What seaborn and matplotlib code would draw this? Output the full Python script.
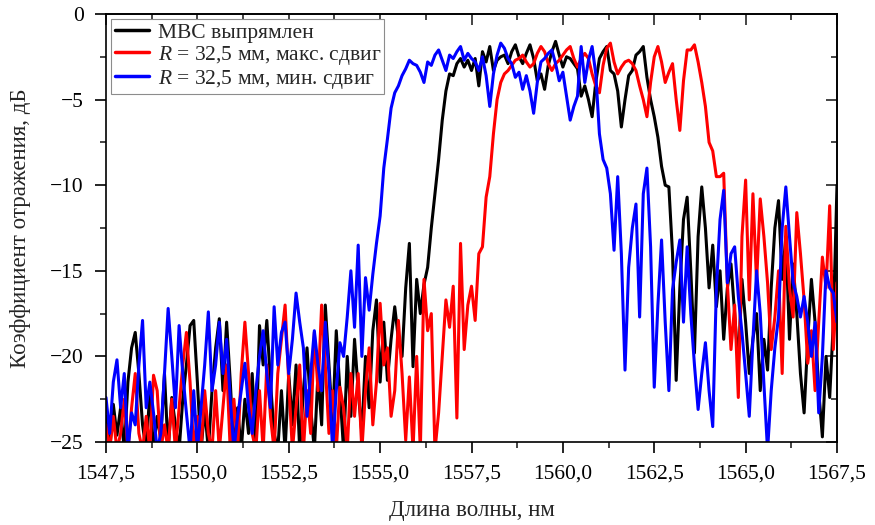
import numpy as np
import pandas as pd
import matplotlib
matplotlib.use("Agg")
import matplotlib.pyplot as plt
from matplotlib.ticker import MultipleLocator, FuncFormatter
import seaborn as sns

# ---- data ----
wl_start, wl_stop, n_pts = 1547.5, 1567.5, 201
wavelength = np.linspace(wl_start, wl_stop, n_pts)

straight = [
    -23.5, -25.5, -22.8, -24.6, -23.0, -25.5, -21.5, -19.5, -18.6, -21.0,
    -24.0, -25.5, -22.0, -25.5, -23.5, -24.8, -21.0, -25.5, -22.4, -24.0,
    -25.5, -22.5, -20.5, -18.2, -17.9, -21.5, -25.5, -23.0, -25.5, -22.0,
    -19.5, -17.8, -22.0, -18.0, -21.5, -25.5, -23.0, -25.5, -22.5, -24.5,
    -21.0, -25.5, -18.2, -20.5, -17.9, -21.5, -24.5, -25.5, -22.0, -25.5,
    -21.0, -24.0, -20.5, -25.5, -22.0, -19.5, -23.0, -25.5, -21.0, -24.0,
    -17.0, -20.5, -24.0, -18.5, -22.0, -25.5, -20.0, -23.5, -19.0, -22.0,
    -24.5, -20.0, -23.0, -18.5, -16.7, -21.5, -18.0, -21.4, -19.0, -17.1,
    -19.0, -20.0, -16.0, -13.4, -20.6, -15.5, -17.5, -15.8, -14.8, -12.5,
    -10.5, -8.5, -6.2, -4.5, -3.5, -3.6, -2.9, -2.6, -3.1, -2.7,
    -3.3, -2.6, -4.2, -2.2, -2.8, -1.9, -3.3, -2.7, -2.5, -2.4,
    -2.9, -2.2, -1.8, -2.5, -2.9, -2.3, -1.8, -2.6, -3.9, -3.5,
    -4.4, -3.0, -2.2, -1.6, -2.4, -3.1, -2.5, -2.6, -2.9, -3.2,
    -4.8, -4.2, -5.0, -6.0, -4.0, -2.6, -2.2, -1.9, -3.3, -3.5,
    -4.5, -6.6, -5.0, -3.6, -3.3, -2.4, -2.2, -1.9, -3.7, -5.0,
    -6.0, -7.2, -8.9, -10.0, -10.1, -14.0, -21.4, -16.0, -12.0, -10.7,
    -15.0, -19.8, -13.0, -10.1, -12.5, -16.0, -13.5, -17.1, -15.0, -19.0,
    -16.0, -14.6, -17.5, -20.5, -15.5, -18.0, -21.0, -19.0, -17.5, -22.0,
    -19.0, -20.8, -16.0, -12.5, -10.9, -15.5, -13.0, -19.0, -14.6, -17.5,
    -21.0, -23.3, -19.0, -15.5, -18.0, -22.0, -24.7, -20.0, -22.4, -18.0,
    -10.0,
]

max_shift = [
    -24.0, -25.5, -23.5, -25.5, -24.5, -22.5, -25.5, -23.0, -21.0, -24.5,
    -25.5, -23.5, -25.5, -21.1, -22.0, -25.5, -24.0, -25.5, -22.5, -25.5,
    -23.0, -20.5, -18.6, -21.5, -25.5, -23.5, -25.5, -22.0, -24.5, -25.5,
    -22.0, -25.5, -23.0, -20.5, -25.5, -22.5, -25.5, -21.0, -18.0, -21.0,
    -24.5, -25.5, -22.0, -25.5, -20.5, -23.5, -25.5, -21.0, -19.0, -17.0,
    -21.5, -25.5, -23.0, -20.5, -25.5, -22.0, -24.5, -18.6, -22.0, -17.0,
    -20.5, -24.5, -22.0, -25.5, -21.8, -23.0, -25.5, -21.0, -23.5, -21.0,
    -25.5, -22.0, -19.5, -24.0, -21.5, -16.9, -20.5, -19.5, -23.5, -22.0,
    -17.9, -21.0, -24.9, -21.2, -25.5, -20.0, -25.5, -15.5, -18.5, -17.5,
    -25.5, -23.3, -20.0, -16.7, -18.3, -15.9, -23.6, -13.4, -19.6, -17.0,
    -15.9, -17.9, -14.0, -13.6, -10.7, -9.5, -7.0, -5.0, -4.0, -3.5,
    -3.3, -3.0, -2.7, -2.6, -2.4, -2.8, -3.1, -2.9, -2.3, -1.9,
    -2.2, -2.9, -3.3, -2.9, -2.7, -2.4, -2.1, -1.9, -2.6, -3.1,
    -2.6, -2.3, -2.6, -3.5, -4.2, -4.6, -3.0, -2.0, -1.7, -2.8,
    -3.5, -3.1, -2.8, -2.7, -2.9, -3.3, -4.2, -5.0, -6.0, -4.0,
    -2.5, -1.9, -2.8, -4.0, -3.4, -2.9, -5.0, -6.8, -3.9, -2.1,
    -2.1, -1.8, -2.8, -4.0, -5.4, -7.5, -8.0, -9.5, -9.5, -9.3,
    -15.7, -19.6, -17.0, -22.4, -13.0, -9.7, -16.7, -10.5, -15.7, -10.8,
    -13.0, -15.7, -19.6, -17.7, -15.0, -21.0, -12.4, -16.0, -17.7, -11.6,
    -14.0, -16.7, -20.4, -18.5, -22.0, -18.0, -14.2, -16.0, -11.2, -19.6,
    -15.7,
]

min_shift = [
    -22.4, -24.5, -21.5, -20.2, -23.0, -21.0, -25.5, -23.3, -24.0, -20.5,
    -17.9, -23.0, -21.5, -23.3, -25.5, -24.5, -21.0, -17.2, -20.0, -23.0,
    -18.2, -21.0, -23.3, -25.5, -22.0, -25.5, -23.0, -20.5, -17.4, -22.0,
    -20.5, -18.0, -21.0, -19.0, -22.5, -25.5, -23.5, -22.0, -20.4, -23.0,
    -24.5, -22.0, -20.0, -18.5, -21.0, -23.0, -17.1, -20.5, -18.6, -18.0,
    -21.0, -19.0, -16.3, -18.0, -19.5, -23.5, -21.0, -18.5, -20.5, -22.0,
    -18.0, -21.0, -25.5, -22.0, -19.2, -20.0, -17.7, -15.0, -18.3, -13.5,
    -20.0, -15.4, -17.3, -15.2, -13.4, -11.8, -9.0, -7.3, -5.5, -4.6,
    -4.2, -3.6, -3.2, -2.7, -2.9, -3.0, -3.4, -4.0, -2.8, -3.0,
    -2.4, -2.1, -2.7, -3.3, -2.4, -2.6, -2.2, -1.9, -2.7, -2.3,
    -2.6, -2.8, -3.3, -2.5, -3.6, -5.4, -3.5, -2.4, -1.7, -2.0,
    -2.6, -2.9, -3.7, -3.4, -4.4, -3.6, -4.5, -5.8, -4.0, -2.8,
    -2.6, -2.3, -2.1, -2.9, -3.9, -3.4, -4.8, -6.2, -5.4, -4.8,
    -1.9, -4.0, -2.7, -1.9, -3.5, -7.0, -8.5, -9.0, -10.5, -13.8,
    -9.5, -14.0, -20.8, -14.8, -12.5, -11.1, -17.7, -10.5, -9.0, -13.6,
    -21.8, -17.0, -13.2, -18.0, -22.0, -16.1, -14.5, -13.2, -18.0, -13.6,
    -17.5, -20.5, -23.1, -21.0, -19.2, -22.0, -24.1, -16.0, -12.0, -10.3,
    -15.7, -14.0, -13.6, -16.5, -18.6, -21.0, -23.5, -19.0, -15.0, -17.5,
    -21.6, -25.5, -22.0, -19.5, -17.7, -12.5, -10.1, -13.0, -15.7, -16.5,
    -17.7, -16.5, -18.0, -20.0, -18.0, -23.3, -20.0, -15.0, -16.0, -16.3,
    -18.0,
]

labels = ["МВС выпрямлен",
          "$R$ = 32,5 мм, макс. сдвиг",
          "$R$ = 32,5 мм, мин. сдвиг"]
colors = ["#000000", "#ff0000", "#0000ff"]

x_label = "Длина волны, нм"
y_label = "Коэффициент отражения, дБ"

# ---- style ----
sns.set_style("ticks")
plt.rcParams["font.family"] = ["Liberation Serif", "DejaVu Serif"]
plt.rcParams["mathtext.fontset"] = "custom"
plt.rcParams["mathtext.it"] = "Liberation Serif:italic"
plt.rcParams["mathtext.rm"] = "Liberation Serif"
plt.rcParams["axes.unicode_minus"] = True

fig = plt.figure(figsize=(8.75, 5.25), dpi=100)
ax = fig.add_axes([106 / 875, 1 - 442 / 525, (837 - 106) / 875, (442 - 14) / 525])

for series, lab, col in zip([straight, max_shift, min_shift], labels, colors):
    df = pd.DataFrame({"wl": wavelength, "R": series})
    sns.lineplot(data=df, x="wl", y="R", ax=ax, color=col, lw=2.2,
                 label=lab, sort=False, estimator=None)

ax.set_xlim(1547.5, 1567.5)
ax.set_ylim(-25, 0)

comma = FuncFormatter(lambda v, p: f"{v:.1f}".replace(".", ","))
ax.xaxis.set_major_locator(MultipleLocator(2.5))
ax.xaxis.set_minor_locator(MultipleLocator(1.25))
ax.xaxis.set_major_formatter(comma)
ax.yaxis.set_major_locator(MultipleLocator(5))
ax.yaxis.set_minor_locator(MultipleLocator(2.5))
ax.yaxis.set_major_formatter(FuncFormatter(lambda v, p: f"{int(round(v))}".replace("-", "\u2212")))

ax.tick_params(axis="both", which="major", direction="out", length=8, width=1.2,
               labelsize=15.5, colors="black")
ax.tick_params(axis="both", which="minor", direction="out", length=4, width=1.2)
ax.tick_params(axis="x", which="major", pad=8)
ax.tick_params(axis="y", which="major", pad=8)

# top / right ticks pointing inward
secx = ax.secondary_xaxis("top")
secx.xaxis.set_major_locator(MultipleLocator(2.5))
secx.xaxis.set_minor_locator(MultipleLocator(1.25))
secx.tick_params(axis="x", which="major", direction="in", length=8, width=1.2, labeltop=False)
secx.tick_params(axis="x", which="minor", direction="in", length=4, width=1.2)
secy = ax.secondary_yaxis("right")
secy.yaxis.set_major_locator(MultipleLocator(5))
secy.yaxis.set_minor_locator(MultipleLocator(2.5))
secy.tick_params(axis="y", which="major", direction="in", length=8, width=1.2, labelright=False)
secy.tick_params(axis="y", which="minor", direction="in", length=4, width=1.2)
for s in list(secx.spines.values()) + list(secy.spines.values()) + list(ax.spines.values()):
    s.set_linewidth(1.2)
    s.set_color("black")

ax.set_xlabel(x_label, fontsize=16.5, labelpad=12)
ax.set_ylabel(y_label, fontsize=16.5, labelpad=14)

leg = ax.legend(loc="upper left", fontsize=15.5, frameon=True, fancybox=False,
                framealpha=1, edgecolor="#8c8c8c", borderaxespad=0.25,
                borderpad=0.15, labelspacing=0.05, handlelength=1.6,
                handletextpad=0.4)
leg.get_frame().set_linewidth(0.8)
for h in leg.get_lines():
    h.set_linewidth(2.5)

fig.savefig("out.png", dpi=100)
